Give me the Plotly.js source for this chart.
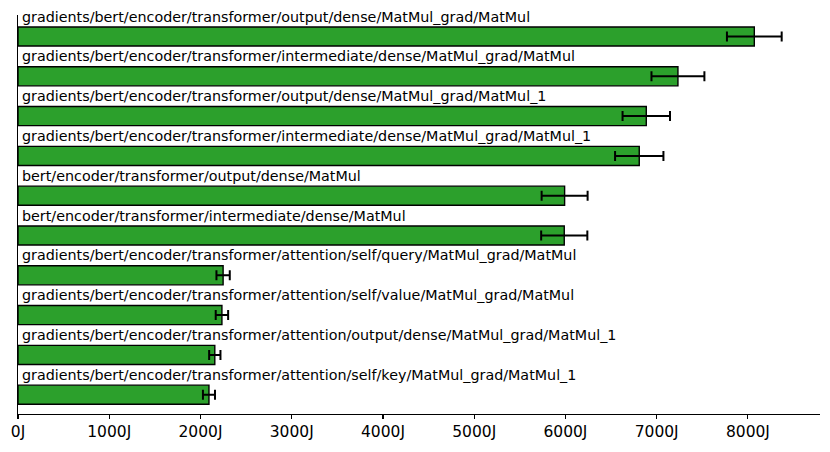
<!DOCTYPE html>
<html>
<head>
<meta charset="utf-8">
<script src="https://cdn.plot.ly/plotly-3.0.1.min.js"></script>
<style>html,body{margin:0;padding:0;background:#fff;}#chart{width:830px;height:452px;}</style>
</head>
<body>
<div id="chart"></div>
<script>
const categories = [
  "gradients/bert/encoder/transformer/output/dense/MatMul_grad/MatMul",
  "gradients/bert/encoder/transformer/intermediate/dense/MatMul_grad/MatMul",
  "gradients/bert/encoder/transformer/output/dense/MatMul_grad/MatMul_1",
  "gradients/bert/encoder/transformer/intermediate/dense/MatMul_grad/MatMul_1",
  "bert/encoder/transformer/output/dense/MatMul",
  "bert/encoder/transformer/intermediate/dense/MatMul",
  "gradients/bert/encoder/transformer/attention/self/query/MatMul_grad/MatMul",
  "gradients/bert/encoder/transformer/attention/self/value/MatMul_grad/MatMul",
  "gradients/bert/encoder/transformer/attention/output/dense/MatMul_grad/MatMul_1",
  "gradients/bert/encoder/transformer/attention/self/key/MatMul_grad/MatMul_1"
];
const energy = [8070, 7233, 6886, 6809, 5991, 5987, 2248, 2235, 2157, 2093];
const energyErr = [300, 290, 260, 265, 252, 253, 73, 68, 62, 66];
const tickValues = [0, 1000, 2000, 3000, 4000, 5000, 6000, 7000, 8000];
const tickLabels = ["0J", "1000J", "2000J", "3000J", "4000J", "5000J", "6000J", "7000J", "8000J"];

const positions = categories.map((_, i) => i);

const trace = {
  type: 'bar',
  orientation: 'h',
  x: energy,
  y: positions,
  width: 0.48,
  marker: {color: '#2ca02c', line: {color: '#000000', width: 1.4}},
  error_x: {type: 'data', array: energyErr, visible: true, color: '#000000', thickness: 2, width: 5},
  hoverinfo: 'skip'
};

const annotations = categories.map((c, i) => ({
  text: c,
  x: 0,
  y: i - 0.5,
  xref: 'x',
  yref: 'y',
  xanchor: 'left',
  yanchor: 'middle',
  xshift: 2,
  yshift: 0,
  showarrow: false,
  font: {family: 'DejaVu Sans', size: 14.3, color: '#000000'}
}));

const layout = {
  width: 830,
  height: 452,
  margin: {l: 18, r: 10, t: 15, b: 38, pad: 0},
  paper_bgcolor: '#ffffff',
  plot_bgcolor: '#ffffff',
  showlegend: false,
  font: {family: 'DejaVu Sans', color: '#000000'},
  xaxis: {
    range: [0, 8790],
    tickvals: tickValues,
    ticktext: tickLabels,
    showgrid: false,
    zeroline: false,
    showline: true,
    linecolor: '#000000',
    linewidth: 1.1,
    ticks: 'outside',
    ticklen: 3.5,
    tickwidth: 1.1,
    tickcolor: '#000000',
    tickfont: {family: 'DejaVu Sans', size: 15.5, color: '#000000'}
  },
  yaxis: {
    range: [9.485, -0.54],
    showgrid: false,
    zeroline: false,
    showline: true,
    linecolor: '#000000',
    linewidth: 1.1,
    showticklabels: false,
    ticks: ''
  },
  annotations: annotations
};

Plotly.newPlot('chart', [trace], layout, {staticPlot: true, displayModeBar: false});
</script>
</body>
</html>
